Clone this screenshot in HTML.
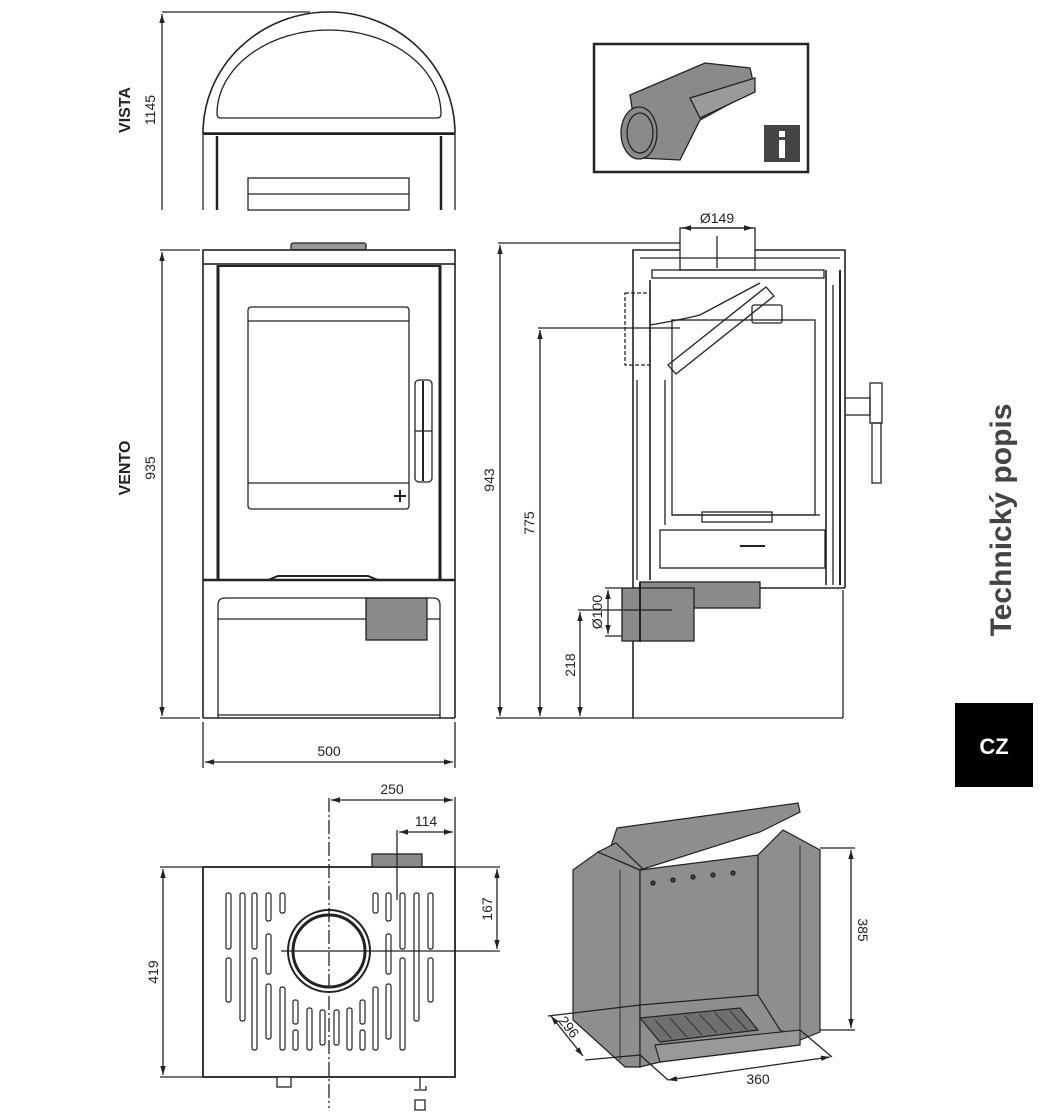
<!DOCTYPE html>
<html><head><meta charset="utf-8"><style>
html,body{margin:0;padding:0;background:#fff;}
svg{display:block;font-family:"Liberation Sans",sans-serif;}
</style></head><body>
<svg width="1040" height="1120" viewBox="0 0 1040 1120" xmlns="http://www.w3.org/2000/svg">
<defs>
<marker id="a" viewBox="0 0 10 10" refX="10" refY="5" markerWidth="7" markerHeight="7" orient="auto-start-reverse"><path d="M0,2 L10,5 L0,8 z" fill="#222"/></marker>
</defs>
<g stroke="#222" fill="none" stroke-width="1.3">
<!-- VISTA top -->
<path d="M203,133 A126,121 0 0 1 455,133 Z" stroke-width="1.6"/>
<path d="M217,114 A112,84 0 0 1 441,114 Q441,118 437,118 L221,118 Q217,118 217,114" />
<line x1="203" y1="134" x2="455" y2="134" stroke-width="2"/>
<line x1="203" y1="134" x2="203" y2="210"/><line x1="455" y1="134" x2="455" y2="210"/>
<line x1="217" y1="136" x2="217" y2="210" stroke-width="2.5"/><line x1="441" y1="136" x2="441" y2="210" stroke-width="2.5"/>
<rect x="248" y="178" width="161" height="32" />
<line x1="248" y1="194" x2="409" y2="194"/>
<line x1="162" y1="12" x2="310" y2="12"/>
<line x1="162" y1="14" x2="162" y2="210" marker-start="url(#a)"/>
<!-- VENTO front -->
<rect x="291" y="243" width="75" height="7" rx="2" fill="#999"/>
<rect x="203" y="250" width="252" height="14" stroke-width="1.6"/>
<line x1="203" y1="264" x2="203" y2="718" stroke-width="1.6"/>
<line x1="455" y1="264" x2="455" y2="718" stroke-width="1.6"/>
<line x1="218" y1="265" x2="218" y2="580" stroke-width="3"/>
<line x1="440" y1="265" x2="440" y2="580" stroke-width="3"/>
<line x1="218" y1="266" x2="440" y2="266" stroke-width="2"/>
<rect x="248" y="307" width="161" height="202" rx="3"/>
<line x1="248" y1="321" x2="409" y2="321"/>
<line x1="248" y1="483" x2="409" y2="483"/>
<rect x="415" y="380" width="17" height="102" rx="4"/>
<line x1="423" y1="381" x2="423" y2="481" stroke-width="2"/>
<line x1="415" y1="431" x2="432" y2="431"/>
<path d="M394,496 h12 M400,490 v12" stroke-width="2"/>
<line x1="203" y1="580" x2="455" y2="580" stroke-width="2.5"/>
<path d="M268,580 l10,-4 h90 l10,4" stroke-width="2"/>
<path d="M218,718 V605 Q218,598 225,598 H433 Q440,598 440,605 V718" />
<line x1="218" y1="619" x2="440" y2="619"/>
<line x1="203" y1="718" x2="455" y2="718" stroke-width="1.6"/>
<line x1="218" y1="715" x2="440" y2="715"/>
<rect x="366" y="598" width="61" height="42" fill="#8a8a8a"/>
<line x1="160" y1="250" x2="200" y2="250"/>
<line x1="160" y1="718" x2="200" y2="718"/>
<line x1="162" y1="252" x2="162" y2="716" marker-start="url(#a)" marker-end="url(#a)"/>
<line x1="203" y1="722" x2="203" y2="768"/><line x1="455" y1="722" x2="455" y2="768"/>
<line x1="205" y1="762" x2="453" y2="762" marker-start="url(#a)" marker-end="url(#a)"/>
<!-- side view -->
<rect x="680" y="228" width="75" height="42"/>
<line x1="682" y1="228" x2="753" y2="228" marker-start="url(#a)" marker-end="url(#a)"/>
<line x1="717" y1="236" x2="717" y2="268"/>
<path d="M633,268 V250 H680 M755,250 H845 V588" stroke-width="1.6"/>
<path d="M633,268 V588 H845" stroke-width="1.6"/>
<line x1="640" y1="258" x2="840" y2="258"/>
<rect x="652" y="270" width="172" height="8"/>
<line x1="650" y1="280" x2="650" y2="580" stroke-width="1.6"/>
<line x1="665" y1="380" x2="665" y2="525"/>
<line x1="637" y1="380" x2="637" y2="580"/>
<rect x="625" y="293" width="25" height="72" stroke-dasharray="4,2"/>
<rect x="672" y="320" width="143" height="195"/>
<line x1="672" y1="515" x2="820" y2="515"/>
<rect x="702" y="512" width="70" height="10"/>
<rect x="660" y="530" width="165" height="38"/>
<line x1="740" y1="546" x2="765" y2="546" stroke-width="2"/>
<path d="M668,365 L766,287 L774,296 L676,374 Z" />
<path d="M650,325 Q680,320 700,315 L760,283"/>
<rect x="752" y="305" width="30" height="18" rx="2"/>
<line x1="826" y1="270" x2="826" y2="585" stroke-width="1.6"/>
<line x1="833" y1="285" x2="833" y2="585"/>
<line x1="840" y1="270" x2="840" y2="585" stroke-width="2"/>
<rect x="870" y="383" width="12" height="40"/>
<rect x="872" y="423" width="9" height="60"/>
<path d="M845,398 h25 v17 h-25"/>
<line x1="633" y1="590" x2="633" y2="718" stroke-width="1.6"/>
<line x1="843" y1="590" x2="843" y2="718"/>
<rect x="640" y="582" width="120" height="26" fill="#8a8a8a"/>
<rect x="622" y="588" width="72" height="53" fill="#8a8a8a"/>
<line x1="640" y1="582" x2="640" y2="642" stroke-width="2"/>
<line x1="498" y1="243" x2="680" y2="243"/>
<line x1="500" y1="245" x2="500" y2="716" marker-start="url(#a)" marker-end="url(#a)"/>
<line x1="538" y1="328" x2="680" y2="328"/>
<line x1="540" y1="330" x2="540" y2="716" marker-start="url(#a)" marker-end="url(#a)"/>
<line x1="578" y1="610" x2="672" y2="610"/>
<line x1="580" y1="612" x2="580" y2="716" marker-start="url(#a)" marker-end="url(#a)"/>
<line x1="605" y1="588" x2="622" y2="588"/><line x1="605" y1="636" x2="622" y2="636"/>
<line x1="608" y1="590" x2="608" y2="634" marker-start="url(#a)" marker-end="url(#a)"/>
<line x1="496" y1="718" x2="843" y2="718"/>
<!-- info box -->
<rect x="594" y="44" width="214" height="128" stroke-width="2.5"/>
<path d="M630,95 L705,63 L750,68 L755,90 L700,120 L680,160 L640,158 Z" fill="#8a8a8a"/>
<path d="M690,98 L755,78 L755,92 L700,118 Z" fill="#9a9a9a"/>
<ellipse cx="639" cy="133" rx="18" ry="26" fill="#8a8a8a"/>
<ellipse cx="640" cy="133" rx="13" ry="20"/>
<!-- top plan -->
<rect x="203" y="867" width="252" height="210" stroke-width="1.8"/>
<rect x="372" y="854" width="50" height="13" fill="#8a8a8a"/>
<circle cx="329" cy="951" r="41" stroke-width="2"/>
<circle cx="329" cy="951" r="36" stroke-width="3"/>
<line x1="329" y1="798" x2="329" y2="1108" stroke-dasharray="14,3,2,3"/>
<line x1="281" y1="951" x2="500" y2="951"/>
<line x1="455" y1="797" x2="455" y2="867"/>
<line x1="331" y1="800" x2="453" y2="800" marker-start="url(#a)" marker-end="url(#a)"/>
<line x1="397" y1="830" x2="397" y2="900"/>
<line x1="399" y1="832" x2="453" y2="832" marker-start="url(#a)" marker-end="url(#a)"/>
<line x1="455" y1="867" x2="500" y2="867"/>
<line x1="497" y1="869" x2="497" y2="949" marker-start="url(#a)" marker-end="url(#a)"/>
<line x1="160" y1="867" x2="203" y2="867"/><line x1="160" y1="1077" x2="203" y2="1077"/>
<line x1="163" y1="869" x2="163" y2="1075" marker-start="url(#a)" marker-end="url(#a)"/>
<g stroke-width="1.2">
<rect x="226" y="893" width="5" height="56" rx="2"/><rect x="226" y="958" width="5" height="44" rx="2"/>
<rect x="240" y="893" width="5" height="128" rx="2"/>
<rect x="252" y="893" width="5" height="56" rx="2"/><rect x="252" y="958" width="5" height="92" rx="2"/>
<rect x="266" y="893" width="5" height="28" rx="2"/><rect x="266" y="934" width="5" height="40" rx="2"/><rect x="266" y="984" width="5" height="55" rx="2"/>
<rect x="280" y="893" width="5" height="20" rx="2"/><rect x="280" y="987" width="5" height="63" rx="2"/>
<rect x="293" y="1000" width="5" height="24" rx="2"/><rect x="293" y="1030" width="5" height="20" rx="2"/>
<rect x="307" y="1008" width="5" height="42" rx="2"/>
<rect x="320" y="1010" width="5" height="35" rx="2"/><rect x="334" y="1010" width="5" height="35" rx="2"/>
<rect x="347" y="1008" width="5" height="42" rx="2"/>
<rect x="360" y="1000" width="5" height="24" rx="2"/><rect x="360" y="1030" width="5" height="20" rx="2"/>
<rect x="373" y="987" width="5" height="63" rx="2"/>
<rect x="373" y="893" width="5" height="20" rx="2"/>
<rect x="386" y="893" width="5" height="28" rx="2"/><rect x="386" y="934" width="5" height="40" rx="2"/><rect x="386" y="984" width="5" height="55" rx="2"/>
<rect x="400" y="893" width="5" height="56" rx="2"/><rect x="400" y="958" width="5" height="92" rx="2"/>
<rect x="414" y="893" width="5" height="128" rx="2"/>
<rect x="428" y="893" width="5" height="56" rx="2"/><rect x="428" y="958" width="5" height="44" rx="2"/>
</g>
<rect x="277" y="1077" width="14" height="10" fill="#fff"/>
<path d="M420,1077 v12 M414,1090 h12 v-4 M415,1100 h10 v10 h-10 z"/>
<!-- firebox iso -->
<g fill="#8e8e8e" stroke="#222" stroke-width="1.2">
<polygon points="617,828 798,803 800,812 760,832 640,870 608,855"/>
<polygon points="573,870 598,852 640,870 640,1067 625,1067 573,1020"/>
<polygon points="598,852 616,843 642,868 640,870"/>
<polygon points="640,870 758,855 758,1000 640,1010"/>
<polygon points="758,855 783,830 820,850 820,1032 800,1040 758,1040"/>
<polygon points="640,1005 758,995 780,1030 800,1040 800,1045 660,1062 640,1067"/>
<polygon points="640,1018 740,1008 758,1030 660,1042" fill="#6f6f6f"/>
<polygon points="655,1045 800,1030 800,1045 660,1062" fill="#999"/>
</g>
<g stroke="#333" stroke-width="1">
<line x1="655" y1="1020" x2="672" y2="1039"/><line x1="670" y1="1018" x2="687" y2="1037"/><line x1="685" y1="1016" x2="702" y2="1035"/><line x1="700" y1="1015" x2="717" y2="1033"/><line x1="715" y1="1013" x2="732" y2="1031"/><line x1="730" y1="1011" x2="747" y2="1030"/>
<line x1="620" y1="870" x2="620" y2="1060"/><line x1="800" y1="845" x2="800" y2="1040"/>
</g>
<g fill="#444"><circle cx="653" cy="883" r="2"/><circle cx="673" cy="880" r="2"/><circle cx="693" cy="877" r="2"/><circle cx="713" cy="875" r="2"/><circle cx="733" cy="873" r="2"/></g>
<g stroke="#222" stroke-width="1.3">
<line x1="820" y1="848" x2="855" y2="848"/><line x1="820" y1="1030" x2="855" y2="1030"/>
<line x1="851" y1="850" x2="851" y2="1028" marker-start="url(#a)" marker-end="url(#a)"/>
<line x1="548" y1="1016" x2="640" y2="1005"/><line x1="585" y1="1060" x2="640" y2="1055"/>
<line x1="551" y1="1016" x2="583" y2="1056" marker-start="url(#a)" marker-end="url(#a)"/>
<line x1="640" y1="1055" x2="668" y2="1080"/><line x1="800" y1="1030" x2="832" y2="1057"/>
<line x1="668" y1="1080" x2="830" y2="1057" marker-start="url(#a)" marker-end="url(#a)"/>
</g>
</g>
<rect x="764" y="125" width="36" height="37" fill="#444"/>
<rect x="779" y="131" width="6" height="6" fill="#fff"/><rect x="779" y="140" width="6" height="18" fill="#fff"/>
<g fill="#222" font-size="14">
<text x="130" y="110" transform="rotate(-90 130 110)" text-anchor="middle" font-weight="bold" font-size="16">VISTA</text>
<text x="155" y="110" transform="rotate(-90 155 110)" text-anchor="middle">1145</text>
<text x="130" y="468" transform="rotate(-90 130 468)" text-anchor="middle" font-weight="bold" font-size="16">VENTO</text>
<text x="155" y="468" transform="rotate(-90 155 468)" text-anchor="middle">935</text>
<text x="329" y="756" text-anchor="middle">500</text>
<text x="717" y="223" text-anchor="middle">Ø149</text>
<text x="494" y="480" transform="rotate(-90 494 480)" text-anchor="middle">943</text>
<text x="534" y="523" transform="rotate(-90 534 523)" text-anchor="middle">775</text>
<text x="575" y="665" transform="rotate(-90 575 665)" text-anchor="middle">218</text>
<text x="602" y="612" transform="rotate(-90 602 612)" text-anchor="middle">Ø100</text>
<text x="392" y="794" text-anchor="middle">250</text>
<text x="426" y="826" text-anchor="middle">114</text>
<text x="492" y="909" transform="rotate(-90 492 909)" text-anchor="middle">167</text>
<text x="158" y="972" transform="rotate(-90 158 972)" text-anchor="middle">419</text>
<text x="858" y="930" transform="rotate(90 858 930)" text-anchor="middle">385</text>
<text x="565" y="1030" transform="rotate(52 565 1030)" text-anchor="middle">296</text>
<text x="758" y="1084" text-anchor="middle">360</text>
</g>
<text x="1011" y="520" transform="rotate(-90 1011 520)" text-anchor="middle" font-weight="bold" font-size="30" fill="#444">Technický popis</text>
<rect x="955" y="703" width="78" height="84" fill="#000"/>
<text x="994" y="754" text-anchor="middle" font-weight="bold" font-size="22" fill="#fff">CZ</text>
</svg>
</body></html>
